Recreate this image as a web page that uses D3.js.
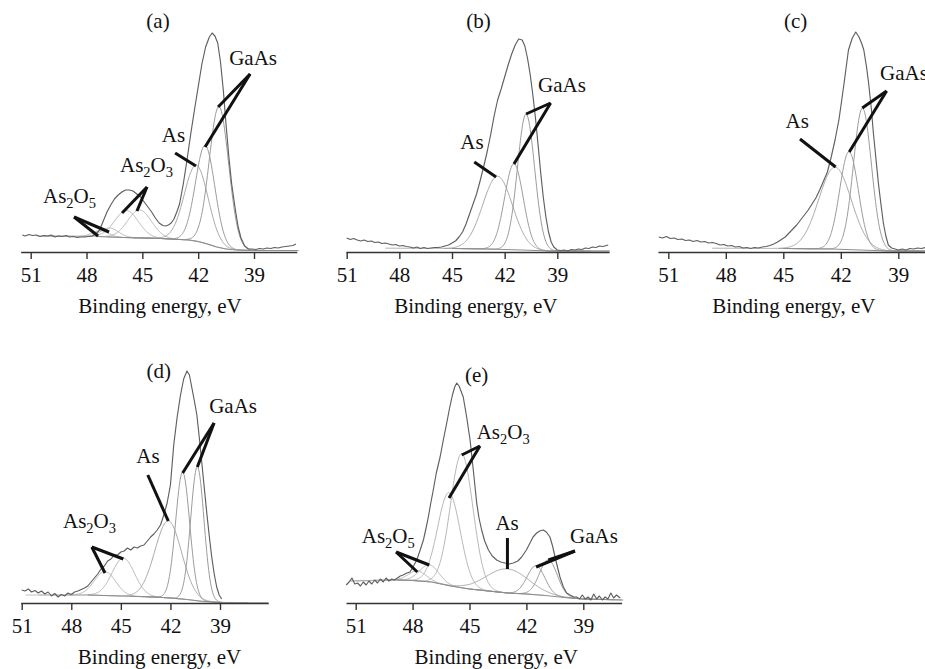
<!DOCTYPE html>
<html>
<head>
<meta charset="utf-8">
<script src="https://cdn.jsdelivr.net/npm/d3@7"></script>
<style>
  html, body { margin: 0; padding: 0; background: #fff; }
  svg { display: block; }
</style>
</head>
<body>
<svg id="fig" width="925" height="669"></svg>
<script>
// As 3d XPS spectra with peak decomposition, five samples (a)-(e)
const tickValues = [51, 48, 45, 42, 39];
const axisTitle = "Binding energy, eV";

// ---------- (a) ----------
const aSpectrum = [[51.45,17],[51.3,16],[51.1,17.5],[50.9,16.5],[50.7,17],[50.5,15.5],[50.3,16.5],[50.1,16],[49.9,17],[49.7,15],[49.5,16],[49.3,15.5],[49.1,16.5],[48.9,15],[48.7,15.5],[48.5,14.5],[48.3,15],[48.1,15],[47.9,15.5],[47.7,16],[47.5,18],[47.3,22],[47.1,31],[46.9,40],[46.7,47],[46.5,53],[46.3,57],[46.1,60],[45.9,62],[45.7,62],[45.5,61],[45.3,58],[45.1,55],[44.9,50],[44.7,45],[44.5,40],[44.3,34],[44.1,29],[43.9,26.5],[43.75,26],[43.6,27],[43.45,29],[43.3,33],[43.15,40],[43.0,48],[42.8,68],[42.6,92],[42.4,118],[42.2,142],[42.0,165],[41.8,188],[41.6,205],[41.4,215],[41.25,219],[41.1,216],[40.95,209],[40.8,190],[40.65,162],[40.5,127],[40.35,95],[40.2,68],[40.0,42],[39.85,25],[39.7,14],[39.5,6],[39.3,3],[39.1,3],[38.9,2.5],[38.7,3.5],[38.5,3],[38.3,4],[38.1,3.5],[37.9,4.5],[37.7,4],[37.5,5],[37.3,5.5],[37.1,6],[36.9,6.5],[36.75,8]];
const aBackground = [[51.6,16],[47.5,15.5],[46,14.5],[44,13.5],[42.5,12],[42,10.5],[41.5,8],[41,5],[40.5,3],[40,2],[39,1.5],[36.6,1.5]];
const aPeakKinds = ["As2O5","As2O5","As2O3","As2O3","As","GaAs","GaAs"];
const aPeakCenters = [47.25, 46.75, 45.85, 45.15, 42.1, 41.62, 40.88];
const aPeakHeights = [6, 9, 27, 28, 76, 98, 141];
const aPeakWidths = [1.0, 1.1, 1.5, 1.5, 1.5, 1.22, 1.22];
const aLabels = [["(a)",44.16,224,"middle"],["GaAs",39.05,187,"middle"],["As",43.33,110,"middle"],["As_2O_3",46.2,80,"start"],["As_2O_5",50.34,49,"start"]];
const aLeaders = [[[39.21,178],[40.93,145]],[[39.21,178],[41.63,105]],[[43.24,99],[42.12,86]],[[44.75,65],[46.09,39]],[[44.75,65],[45.29,41]],[[48.67,35],[47.38,16]],[[48.67,35],[46.79,20]]];

// ---------- (b) ----------
const bSpectrum = [[51.0,14],[50.8,12.5],[50.6,13.5],[50.4,12],[50.2,11],[50.0,12],[49.8,10.5],[49.6,11],[49.4,9.5],[49.2,10],[49.0,8.5],[48.8,9],[48.6,8],[48.4,7],[48.2,7.5],[48.0,6],[47.8,6.5],[47.6,5.5],[47.4,5],[47.2,4],[47.0,5],[46.8,3.5],[46.6,4.5],[46.4,3.5],[46.2,4],[46.0,4.5],[45.8,4.5],[45.6,5],[45.4,6],[45.2,7],[45.0,9],[44.8,11],[44.6,15],[44.4,20],[44.2,28],[44.0,38],[43.8,48],[43.6,58],[43.4,71],[43.2,85],[43.0,100],[42.8,117],[42.6,136],[42.4,152],[42.2,163],[42.0,175],[41.8,187],[41.6,198],[41.4,207],[41.2,213],[41.0,212],[40.85,206],[40.7,194],[40.55,178],[40.4,158],[40.25,135],[40.1,108],[39.95,80],[39.8,55],[39.65,35],[39.5,20],[39.35,10],[39.2,5],[39.0,2],[38.8,1.5],[38.6,2],[38.4,1],[38.2,2.5],[38.0,2],[37.8,3],[37.6,2.5],[37.4,4],[37.2,3.5],[37.0,5],[36.8,4.5],[36.6,6],[36.4,5.5],[36.1,7]];
const bBackground = [[51.1,4],[45,3.5],[43,3],[41,2],[39.5,1],[36,1]];
const bPeakKinds = ["As","GaAs","GaAs"];
const bPeakCenters = [42.4, 41.47, 40.78];
const bPeakHeights = [73, 86, 136];
const bPeakWidths = [2.0, 1.25, 1.15];
const bLabels = [["(b)",43.49,224,"middle"],["GaAs",38.73,160,"middle"],["As",43.86,103,"middle"]];
const bLeaders = [[[39.38,149],[40.78,138]],[[39.38,149],[41.47,88]],[[43.73,90],[42.49,75]]];

// ---------- (c) ----------
const cSpectrum = [[51.5,15],[51.3,14],[51.1,15.5],[50.9,13.5],[50.7,14],[50.5,12.5],[50.3,13],[50.1,11.5],[49.9,12],[49.7,10.5],[49.5,11.5],[49.3,10],[49.1,10.5],[48.9,9],[48.7,9.5],[48.5,8.5],[48.3,7],[48.1,7.5],[47.9,6],[47.7,6.5],[47.5,5],[47.3,5.5],[47.1,4],[46.9,4.5],[46.7,3.5],[46.5,4.5],[46.3,4],[46.1,5],[45.9,5.5],[45.7,6.5],[45.5,8],[45.3,10],[45.1,12.5],[44.9,15],[44.7,19],[44.5,23],[44.3,27],[44.1,32],[43.9,37],[43.7,42],[43.5,48],[43.3,54],[43.1,62],[42.9,71],[42.7,80],[42.5,95],[42.3,112],[42.1,132],[41.95,152],[41.8,173],[41.6,202],[41.4,214],[41.22,220],[41.05,215],[40.9,208],[40.8,202],[40.65,184],[40.55,169],[40.4,142],[40.3,119],[40.17,94],[40.04,69],[39.9,47],[39.78,29],[39.65,16],[39.52,7],[39.35,4],[39.17,3],[39.0,2],[38.8,3],[38.6,2],[38.4,3.5],[38.2,3],[38.0,4],[37.8,3.5],[37.6,4.5],[37.4,4]];
const cBackground = [[51.6,4],[45,3.5],[42.5,3],[41,2],[39.5,1],[36.6,1]];
const cPeakKinds = ["As","GaAs","GaAs"];
const cPeakCenters = [42.3, 41.57, 40.87];
const cPeakHeights = [82, 98, 142];
const cPeakWidths = [2.0, 1.15, 1.1];
const cLabels = [["(c)",44.36,224,"middle"],["GaAs",39.95,172,"start"],["As",44.27,124,"middle"]];
const cLeaders = [[[39.61,161],[40.88,144]],[[39.61,161],[41.56,100]],[[44.13,113],[42.27,85]]];

// ---------- (d) ----------
const dSpectrum = [[51.0,13],[50.8,12],[50.6,14],[50.4,11],[50.2,12.5],[50.0,10],[49.8,12],[49.6,9],[49.4,11],[49.2,7],[49.0,9.5],[48.8,6],[48.6,8.5],[48.4,7],[48.2,10],[48.0,8.5],[47.8,11],[47.6,12],[47.4,13.5],[47.2,15],[47.0,17],[46.8,21],[46.6,25],[46.4,29],[46.2,34],[46.0,37],[45.8,42],[45.6,44],[45.4,48],[45.2,48],[45.0,51],[44.8,52],[44.6,55],[44.4,53],[44.2,56],[44.0,55],[43.8,57],[43.6,58],[43.4,62],[43.2,66],[43.0,69],[42.8,73],[42.6,78],[42.4,88],[42.2,100],[42.0,118],[41.8,158],[41.6,185],[41.4,207],[41.2,224],[41.0,232],[40.85,228],[40.7,215],[40.55,202],[40.4,188],[40.25,165],[40.1,140],[39.95,115],[39.8,90],[39.65,67],[39.5,46],[39.35,29],[39.2,16],[39.05,8],[38.9,4]];
const dBackground = [[51.1,8],[47,8],[45,7],[43,6],[42,5],[41,3.5],[40,1.5],[38.9,0.5]];
const dPeakKinds = ["As2O3","As2O3","As","GaAs","GaAs"];
const dPeakCenters = [45.96, 44.85, 42.13, 41.26, 40.37];
const dPeakHeights = [24, 38, 77, 127, 134];
const dPeakWidths = [1.5, 1.6, 1.9, 1.0, 0.95];
const dLabels = [["(d)",42.71,225,"middle"],["GaAs",38.21,190,"middle"],["As",43.36,140,"middle"],["As_2O_3",48.5,75,"start"]];
const dLeaders = [[[39.36,180],[40.37,136]],[[39.36,180],[41.26,130]],[[43.37,128],[42.13,82]],[[46.76,56],[45.96,30]],[[46.76,56],[44.85,44]]];

// ---------- (e) ----------
const eSpectrum = [[51.5,18],[51.35,21],[51.2,25],[51.05,19],[50.9,20],[50.75,17],[50.6,21],[50.45,18],[50.3,22],[50.15,19],[50.0,23],[49.85,20],[49.7,24],[49.55,21],[49.4,25],[49.25,22],[49.1,24],[48.95,23],[48.8,25],[48.65,27],[48.5,28],[48.3,30],[48.14,31],[47.95,37],[47.78,43],[47.6,53],[47.43,63],[47.3,74],[47.17,86],[47.05,99],[46.91,113],[46.75,130],[46.55,146],[46.38,163],[46.2,180],[46.05,195],[45.9,208],[45.78,216],[45.67,220],[45.55,217],[45.45,212],[45.33,206],[45.15,186],[44.97,163],[44.8,133],[44.62,100],[44.5,85],[44.36,73],[44.2,62],[44.0,53],[43.8,47],[43.57,43],[43.35,41],[43.13,40],[42.9,39],[42.69,40],[42.45,42],[42.25,46],[42.0,53],[41.81,60],[41.65,66],[41.46,70],[41.3,72],[41.11,73],[40.95,71],[40.76,66],[40.62,57],[40.49,46],[40.35,35],[40.23,26],[40.05,16],[39.88,10],[39.7,8],[39.5,6],[39.35,6],[39.2,4],[39.05,8],[38.9,4],[38.75,6],[38.6,3],[38.45,9],[38.3,4],[38.15,7],[38.0,3],[37.85,6],[37.7,4],[37.55,10],[37.4,5],[37.25,8],[37.05,5]];
const eBackground = [[51.6,22],[48.8,23],[48,22.5],[47,21],[46,17],[45,14],[44,12],[43,10],[42,9],[41,7.5],[40,5.5],[39,4],[36.9,3]];
const ePeakKinds = ["As2O5","As2O5","As2O3","As2O3","As","GaAs","GaAs"];
const ePeakCenters = [47.75, 47.12, 46.08, 45.41, 43.0, 41.49, 40.84];
const ePeakHeights = [10, 17, 93, 134, 24, 29, 36];
const ePeakWidths = [1.1, 1.2, 1.4, 1.4, 2.6, 1.1, 1.1];
const eLabels = [["(e)",44.62,221,"middle"],["As_2O_3",44.62,164,"start"],["As_2O_5",50.68,60,"start"],["As",43.02,73,"middle"],["GaAs",38.44,60,"middle"]];
const eLeaders = [[[44.45,157],[45.41,148]],[[44.45,157],[46.08,105]],[[48.87,51],[47.75,31]],[[48.87,51],[47.12,38]],[[43.0,65],[43.0,34]],[[39.44,52],[41.49,36]],[[39.44,52],[40.84,43]]];

// ---------- layout of the five frames (pixels) ----------
const frames = [
  {spectrum: aSpectrum, background: aBackground, kinds: aPeakKinds, centers: aPeakCenters, heights: aPeakHeights, widths: aPeakWidths, labels: aLabels, leaders: aLeaders,
   axisY: 252, x51: 30.7, x39: 254, left: 51.54, right: 36.7, titleAt: 44.05, titleDrop: 61},
  {spectrum: bSpectrum, background: bBackground, kinds: bPeakKinds, centers: bPeakCenters, heights: bPeakHeights, widths: bPeakWidths, labels: bLabels, leaders: bLeaders,
   axisY: 252, x51: 346.7, x39: 557.3, left: 51.04, right: 36.05, titleAt: 43.64, titleDrop: 61},
  {spectrum: cSpectrum, background: cBackground, kinds: cPeakKinds, centers: cPeakCenters, heights: cPeakHeights, widths: cPeakWidths, labels: cLabels, leaders: cLeaders,
   axisY: 252, x51: 668.3, x39: 898.3, left: 51.54, right: 36.6, titleAt: 44.45, titleDrop: 61},
  {spectrum: dSpectrum, background: dBackground, kinds: dPeakKinds, centers: dPeakCenters, heights: dPeakHeights, widths: dPeakWidths, labels: dLabels, leaders: dLeaders,
   axisY: 603, x51: 21.7, x39: 220, left: 51.06, right: 36.08, titleAt: 42.66, titleDrop: 61},
  {spectrum: eSpectrum, background: eBackground, kinds: ePeakKinds, centers: ePeakCenters, heights: ePeakHeights, widths: ePeakWidths, labels: eLabels, leaders: eLeaders,
   axisY: 603, x51: 355.7, x39: 583.3, left: 51.51, right: 36.98, titleAt: 43.59, titleDrop: 61}
];

const peakColor = {GaAs: "#9c9c9c", As: "#a9a9a9", As2O3: "#b8b8b8", As2O5: "#b8b8b8"};
const FONT = "'Liberation Serif', 'Times New Roman', serif";
const svg = d3.select("#fig");

// background value at a given energy (piecewise linear between the listed points)
function backgroundAt(bg, e) {
  for (let i = 0; i < bg.length - 1; i++) {
    const [e0, v0] = bg[i], [e1, v1] = bg[i + 1];
    if (e <= e0 && e >= e1) return v0 + (v1 - v0) * (e - e0) / (e1 - e0);
  }
  return e > bg[0][0] ? bg[0][1] : bg[bg.length - 1][1];
}

// text with chemical subscripts written as "As_2O_3"
function chemText(sel, s) {
  const parts = s.split(/_(\d)/);
  let low = false;
  parts.forEach((t, i) => {
    if (!t) return;
    const isSub = i % 2 === 1;
    const ts = sel.append("tspan").text(t);
    if (isSub && !low) { ts.attr("dy", 5).attr("font-size", 14.5); low = true; }
    else if (isSub) { ts.attr("font-size", 14.5); }
    else if (low) { ts.attr("dy", -5); low = false; }
  });
}

frames.forEach(f => {
  const base = d3.scaleLinear().domain([51, 39]).range([f.x51, f.x39]);
  const x = d3.scaleLinear().domain([f.left, f.right]).range([base(f.left), base(f.right)]);
  const y = d3.scaleLinear().domain([0, 240]).range([f.axisY, f.axisY - 240]);
  const line = d3.line().x(d => x(d[0])).y(d => y(d[1]));
  const g = svg.append("g");

  // fitted components (Gaussians on top of the background)
  f.centers.forEach((c, i) => {
    const w = f.widths[i], h = f.heights[i];
    const lo = Math.max(f.right, c - 3.2 * w), hi = Math.min(f.left, c + 3.2 * w);
    const pts = d3.range(hi, lo, -0.04).concat([lo]).map(e =>
      [e, backgroundAt(f.background, e) + h * Math.exp(-4 * Math.LN2 * (e - c) * (e - c) / (w * w))]);
    g.append("path").attr("d", line(pts)).attr("fill", "none")
      .attr("stroke", peakColor[f.kinds[i]]).attr("stroke-width", 1);
  });

  // background line
  g.append("path").attr("d", line(f.background.filter(d => d[0] <= f.spectrum[0][0] + 0.05)))
    .attr("fill", "none").attr("stroke", "#8c8c8c").attr("stroke-width", 1);

  // measured spectrum
  g.append("path").attr("d", line(f.spectrum)).attr("fill", "none")
    .attr("stroke", "#5f5f5f").attr("stroke-width", 1.15).attr("stroke-linejoin", "round");

  // leader lines
  f.leaders.forEach(seg => {
    g.append("line")
      .attr("x1", x(seg[0][0])).attr("y1", y(seg[0][1]))
      .attr("x2", x(seg[1][0])).attr("y2", y(seg[1][1]))
      .attr("stroke", "#111").attr("stroke-width", 3);
  });

  // labels
  f.labels.forEach(([t, e, v, anchor]) => {
    const tx = g.append("text").attr("x", x(e)).attr("y", y(v))
      .attr("text-anchor", anchor).attr("font-family", FONT).attr("font-size", 21).attr("fill", "#111");
    chemText(tx, t);
  });

  // energy axis
  const ax = g.append("g").attr("transform", `translate(0,${f.axisY})`)
    .call(d3.axisBottom(x).tickValues(tickValues).tickSize(7).tickSizeOuter(0).tickPadding(8).tickFormat(d3.format("d")));
  ax.select(".domain").attr("stroke", "#333").attr("stroke-width", 1.4);
  ax.selectAll(".tick line").attr("stroke", "#333").attr("stroke-width", 1.4);
  ax.selectAll(".tick text").attr("font-family", FONT).attr("font-size", 21).attr("fill", "#111");

  g.append("text").attr("x", x(f.titleAt)).attr("y", f.axisY + f.titleDrop)
    .attr("text-anchor", "middle").attr("font-family", FONT).attr("font-size", 21).attr("fill", "#111")
    .text(axisTitle);
});
</script>
</body>
</html>
